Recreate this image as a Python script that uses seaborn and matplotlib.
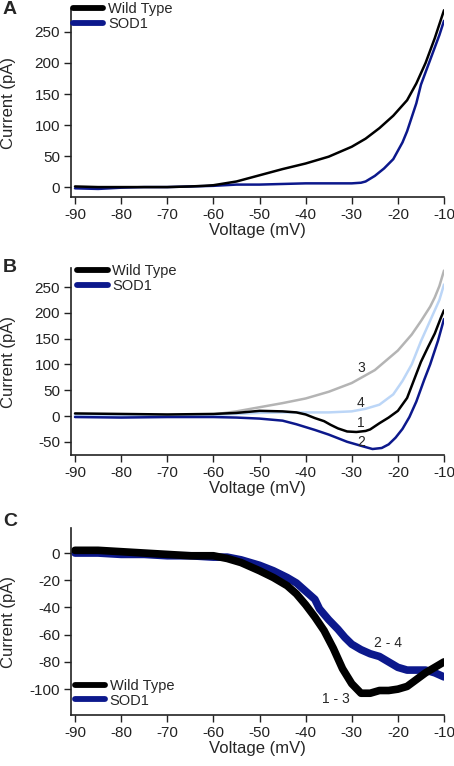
import matplotlib
matplotlib.use('Agg')
import matplotlib.pyplot as plt
import seaborn as sns
from matplotlib.lines import Line2D

# ---------------------------------------------------------------
# Panel A: I-V ramps, Wild Type vs SOD1
# ---------------------------------------------------------------
a_wt_v = [-90, -85, -80, -75, -70, -65, -62, -60, -55, -50, -45, -40, -35,
          -30, -27, -24, -21, -18, -16, -14, -12, -10]
a_wt_i = [1, 0, 0, 0, 0, 1, 2, 3, 9, 19, 29, 38, 49,
          65, 78, 95, 115, 140, 167, 200, 240, 285]

a_sod_v = [-90, -85, -80, -75, -70, -65, -60, -55, -50, -45, -40, -35, -30,
           -28, -27, -25, -23, -21, -19, -18, -16, -15, -13, -12, -11, -10]
a_sod_i = [-2, -3, -1, 0, 0, 1, 2, 4, 4, 5, 6, 6, 6,
           7, 9, 18, 30, 45, 72, 90, 135, 165, 205, 225, 245, 268]

# ---------------------------------------------------------------
# Panel B: traces 1 (WT), 2 (SOD1), 3 (grey), 4 (light blue)
# ---------------------------------------------------------------
b3_v = [-90, -80, -70, -65, -60, -55, -50, -45, -40, -35, -30, -25, -20,
        -17, -15, -13, -12, -11, -10]
b3_i = [0, -1, 0, 1, 3, 9, 17, 25, 34, 47, 64, 89, 127,
        158, 184, 212, 230, 252, 282]

b4_v = [-90, -80, -70, -60, -55, -50, -45, -40, -35, -30, -27, -24, -21,
        -19, -17, -15, -13, -11, -10]
b4_i = [2, 1, 1, 2, 4, 6, 7, 7, 7, 9, 14, 22, 42,
        68, 100, 145, 185, 225, 255]

b1_v = [-90, -80, -70, -60, -55, -50, -45, -42, -40, -38, -36, -34.6, -33,
        -31, -29, -27, -26, -24, -22, -20, -18, -16.5, -15, -13.5, -12,
        -10.7, -10]
b1_i = [5, 4, 3, 4, 6, 10, 9, 7, 3, -4, -10, -17, -24,
        -30, -31, -29, -26, -14, -3, 10, 35, 70, 105, 133, 160,
        190, 205]

b2_v = [-90, -80, -70, -60, -55, -50, -45, -42, -38, -35, -31, -27.5, -25.5,
        -23.5, -22, -20.5, -19, -17.5, -16, -14.3, -13, -11.3, -10]
b2_i = [-2, -3, -2, -2, -3, -5, -9, -16, -27, -36, -50, -59, -64,
        -62, -55, -42, -25, -2, 28, 70, 100, 146, 188]

b_trace_labels = ['3', '4', '1', '2']
b_label_v = [-28, -28, -28, -28]
b_label_i = [93, 25, -14, -50]

# ---------------------------------------------------------------
# Panel C: difference currents
# ---------------------------------------------------------------
c_wt_v = [-90, -85, -80, -75, -70, -65, -60, -57, -54, -50, -47, -44, -42,
          -40, -38, -36, -34, -32, -30, -28, -26, -24, -22, -20, -18, -16,
          -14, -12, -10]
c_wt_i = [2, 2, 1, 0, -1, -2, -2, -4, -7, -13, -18, -24, -30,
          -38, -47, -57, -70, -85, -96, -103, -103, -101, -101, -100, -98, -93,
          -88, -84, -80]

c_sod_v = [-90, -85, -80, -75, -70, -65, -60, -57, -54, -50, -47, -44, -42,
           -40, -38, -37, -35, -33, -31.5, -30, -28, -26, -24, -22, -20, -18,
           -16, -14, -12, -10]
c_sod_i = [0, 0, -1, -1, -2, -2, -3, -3, -5, -9, -13, -18, -22,
           -28, -34, -41, -49, -56, -62, -67, -71, -74, -76, -80, -84, -86,
           -86, -86, -88, -91]

c_trace_labels = ['2 - 4', '1 - 3']
c_label_v = [-22.2, -33.5]
c_label_i = [-66, -107]

legend_names = ['Wild Type', 'SOD1']

WT_COL = '#000000'
SOD_COL = '#0c188c'
LB_COL = '#bcd6f7'
GRAY_COL = '#b4b4b4'

# ---------------------------------------------------------------
sns.set_style('ticks')
plt.rcParams['font.family'] = ['Liberation Sans', 'DejaVu Sans']
plt.rcParams['axes.unicode_minus'] = False
plt.rcParams['xtick.major.size'] = 5
plt.rcParams['ytick.major.size'] = 5
plt.rcParams['xtick.major.width'] = 1
plt.rcParams['ytick.major.width'] = 1
plt.rcParams['xtick.direction'] = 'out'
plt.rcParams['ytick.direction'] = 'out'

W, H = 454, 766
fig = plt.figure(figsize=(W / 100, H / 100), dpi=100)


def panel(top, bottom):
    left, right = 71, 444
    return fig.add_axes([left / W, 1 - bottom / H, (right - left) / W, (bottom - top) / H])


def trace(ax, v, i, color, lw):
    sns.lineplot(x=v, y=i, color=color, lw=lw, ax=ax, estimator=None, sort=False)


def style(ax, ylim, yticks):
    ax.set_xlim(-90.87, -10)
    ax.set_ylim(*ylim)
    ax.set_xticks(range(-90, -9, 10))
    ax.set_yticks(yticks)
    for s in ['top', 'right']:
        ax.spines[s].set_visible(False)
    for s in ['left', 'bottom']:
        ax.spines[s].set_linewidth(1.2)
        ax.spines[s].set_color('#222222')
    ax.tick_params(labelsize=11, pad=3, colors='#222222')
    ax.set_xlabel('Voltage (mV)', fontsize=12, labelpad=1)
    ax.set_ylabel('Current (pA)', fontsize=12)
    ax.yaxis.set_label_coords(-0.148, 0.5)


def legend(ax, loc, anchor):
    handles = [Line2D([], [], color=WT_COL, lw=4.2, solid_capstyle='round'),
               Line2D([], [], color=SOD_COL, lw=4.2, solid_capstyle='round')]
    ax.legend(handles, legend_names, loc=loc, bbox_to_anchor=anchor, frameon=False,
              fontsize=10.5, handlelength=2.1, handletextpad=0.3, labelspacing=0.05,
              borderpad=0, borderaxespad=0)


# A
axA = panel(9, 197)
trace(axA, a_sod_v, a_sod_i, SOD_COL, 1.8)
trace(axA, a_wt_v, a_wt_i, WT_COL, 1.8)
style(axA, (-16, 287), range(0, 251, 50))
legend(axA, 'upper left', (0.005, 1.035))

# B
axB = panel(268, 455)
trace(axB, b3_v, b3_i, GRAY_COL, 1.8)
trace(axB, b4_v, b4_i, LB_COL, 1.8)
trace(axB, b2_v, b2_i, SOD_COL, 1.8)
trace(axB, b1_v, b1_i, WT_COL, 1.8)
for t, v, i in zip(b_trace_labels, b_label_v, b_label_i):
    axB.text(v, i, t, fontsize=10, ha='center', va='center')
style(axB, (-75.6, 287), range(-50, 251, 50))
legend(axB, 'upper left', (0.016, 1.02))

# C
axC = panel(528, 715)
trace(axC, c_sod_v, c_sod_i, SOD_COL, 5.5)
trace(axC, c_wt_v, c_wt_i, WT_COL, 5.5)
for t, v, i in zip(c_trace_labels, c_label_v, c_label_i):
    axC.text(v, i, t, fontsize=10, ha='center', va='center')
style(axC, (-119, 18.4), range(-100, 1, 20))
legend(axC, 'lower left', (0.01, 0.04))

for letter, y in zip(['A', 'B', 'C'], [10, 267, 522]):
    fig.text(10 / W, 1 - y / H, letter, fontsize=14, fontweight='bold',
             ha='center', va='center')

fig.savefig('out.png', dpi=100)
